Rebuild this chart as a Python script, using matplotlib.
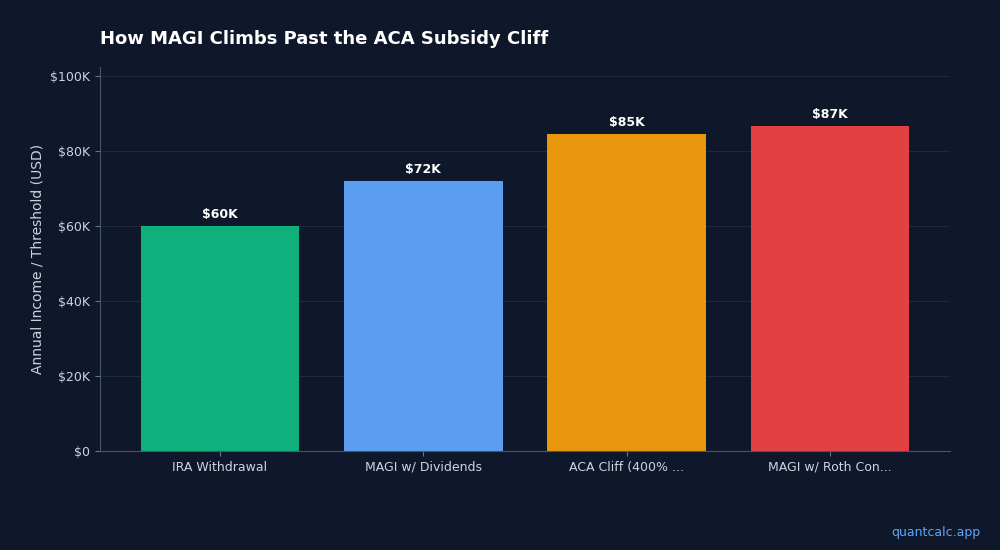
import matplotlib
matplotlib.use("Agg")
import matplotlib.pyplot as plt
from matplotlib.ticker import FuncFormatter

categories = ["IRA Withdrawal", "MAGI w/ Dividends", "ACA Cliff (400% ...", "MAGI w/ Roth Con..."]
values = [60000, 72000, 84600, 86700]
labels = ["$60K", "$72K", "$85K", "$87K"]
colors = ["#10b981", "#60a5fa", "#f59e0b", "#ef4444"]

bg = "#0f172a"
fig = plt.figure(figsize=(10, 5.5), dpi=100, facecolor=bg)
ax = fig.add_axes([0.10, 0.18, 0.85, 0.698])
ax.set_facecolor(bg)
x = range(len(categories))
ax.bar(x, values, width=0.78, color=colors, alpha=0.95, zorder=2)
for i, (v, l) in enumerate(zip(values, labels)):
    ax.text(i, v + 1500, l, ha="center", va="bottom", color="white", fontsize=9, fontweight="bold")
ax.set_xlim(-0.59, 3.59)
ax.set_ylim(0, 102500)
ax.set_yticks(range(0, 100001, 20000))
ax.yaxis.set_major_formatter(FuncFormatter(lambda v, p: "$0" if v == 0 else f"${int(v/1000)}K"))
ax.set_xticks(list(x))
ax.set_xticklabels(categories)
ax.tick_params(colors="#cbd5e1", labelsize=9)
ax.tick_params(axis="both", color="#64748b")
ax.grid(axis="y", color="#1e293b", linewidth=0.8, zorder=0)
for s in ["top", "right"]:
    ax.spines[s].set_visible(False)
for s in ["left", "bottom"]:
    ax.spines[s].set_color("#475569")
ax.set_ylabel("Annual Income / Threshold (USD)", color="#cbd5e1", fontsize=10)
fig.text(0.10, 0.92, "How MAGI Climbs Past the ACA Subsidy Cliff", color="white", fontsize=13, fontweight="bold")
fig.text(0.98, 0.025, "quantcalc.app", color="#60a5fa", fontsize=9, ha="right")
fig.savefig("out.png", facecolor=bg)
